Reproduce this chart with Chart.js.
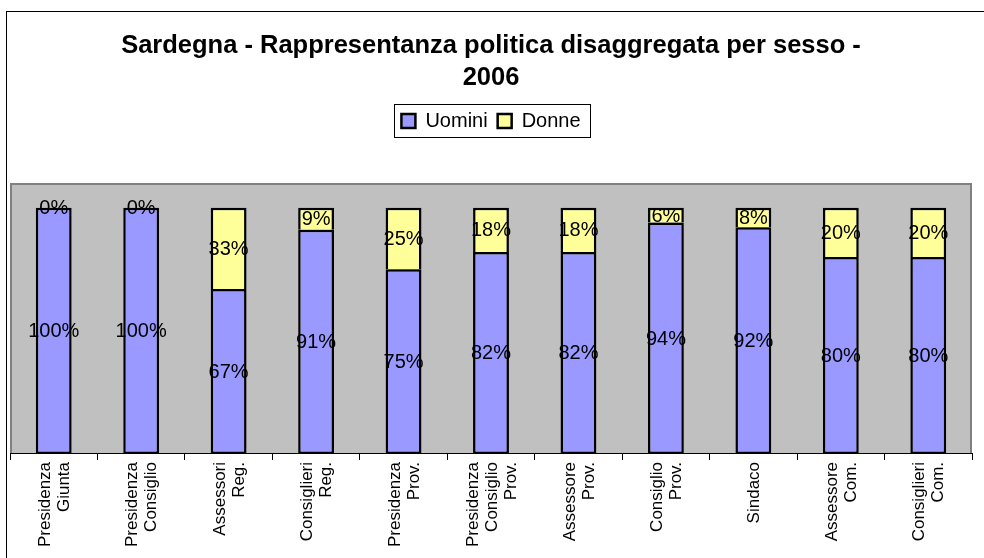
<!DOCTYPE html>
<html>
<head>
<meta charset="utf-8">
<script src="https://cdn.jsdelivr.net/npm/chart.js@4/dist/chart.umd.min.js"></script>
<style>
  html, body { margin: 0; padding: 0; background: #fff; }
  #wrap { width: 984px; height: 558px; position: relative; }
</style>
</head>
<body>
<div id="wrap"><canvas id="chart"></canvas></div>
<script>
// categories (lines of each axis label)
var categories = [
    ['Presidenza', 'Giunta'],
    ['Presidenza', 'Consiglio'],
    ['Assessori', 'Reg.'],
    ['Consiglieri', 'Reg.'],
    ['Presidenza', 'Prov.'],
    ['Presidenza', 'Consiglio', 'Prov.'],
    ['Assessore', 'Prov.'],
    ['Consiglio', 'Prov.'],
    ['Sindaco'],
    ['Assessore', 'Com.'],
    ['Consiglieri', 'Com.']
];
var uomini = [100, 100, 67, 91, 75, 82, 82, 94, 92, 80, 80];
var donne = [0, 0, 33, 9, 25, 18, 18, 6, 8, 20, 20];
var seriesNames = ['Uomini', 'Donne'];
var titleLines = ['Sardegna - Rappresentanza politica disaggregata per sesso -', '2006'];

var FONT = '"Liberation Sans", Arial, sans-serif';
Chart.defaults.font.family = FONT;
Chart.defaults.color = '#000';

// rotated labels: pad with half-line slots so every block is centred on its tick
function padLabel(lines) {
    var out = [];
    for (var i = 0; i < 3 - lines.length; i++) out.push('');
    lines.forEach(function (l, i) {
        if (i > 0) out.push('');
        out.push(l);
    });
    return out;
}
var labels = categories.map(padLabel);

var plotBg = {
    id: 'plotBg',
    beforeDraw: function (chart) {
        var ctx = chart.ctx, a = chart.chartArea;
        ctx.save();
        ctx.fillStyle = '#fff';
        ctx.fillRect(0, 0, chart.width, chart.height);
        ctx.strokeStyle = '#000';
        ctx.lineWidth = 1;
        ctx.strokeRect(6.5, 11.5, chart.width + 20, chart.height + 20);
        ctx.fillStyle = '#C0C0C0';
        ctx.fillRect(a.left, a.top, a.right - a.left, a.bottom - a.top);
        ctx.strokeStyle = '#808080';
        ctx.lineWidth = 2;
        ctx.beginPath();
        ctx.moveTo(a.left + 1, a.bottom);
        ctx.lineTo(a.left + 1, a.top + 1);
        ctx.lineTo(a.right - 1, a.top + 1);
        ctx.lineTo(a.right - 1, a.bottom);
        ctx.stroke();
        ctx.restore();
    }
};

var valueLabels = {
    id: 'valueLabels',
    afterDatasetsDraw: function (chart) {
        var ctx = chart.ctx;
        ctx.save();
        ctx.font = '20px ' + FONT;
        ctx.fillStyle = '#000';
        ctx.textAlign = 'center';
        ctx.textBaseline = 'middle';
        chart.data.datasets.forEach(function (ds, i) {
            chart.getDatasetMeta(i).data.forEach(function (bar, j) {
                var p = bar.getProps(['x', 'y', 'base'], true);
                ctx.fillText(ds.data[j] + '%', p.x, (p.y + p.base) / 2 + 1);
            });
        });
        ctx.restore();
    }
};

var legendFrame = {
    id: 'legendFrame',
    afterDraw: function (chart) {
        var hb = chart.legend.legendHitBoxes;
        if (!hb || !hb.length) return;
        var first = hb[0], last = hb[hb.length - 1];
        var cy = first.top + first.height / 2;
        var ctx = chart.ctx;
        ctx.save();
        ctx.strokeStyle = '#000';
        ctx.lineWidth = 1;
        ctx.strokeRect(Math.round(first.left - 7) + 0.5, Math.round(cy - 17) + 0.5,
            Math.round(last.left + last.width + 17 - first.left), 33);
        ctx.restore();
    }
};

new Chart(document.getElementById('chart'), {
    type: 'bar',
    data: {
        labels: labels,
        datasets: [
            {
                label: seriesNames[0],
                data: uomini,
                backgroundColor: '#9999FF',
                borderColor: '#000',
                borderWidth: 2.5,
                borderSkipped: false
            },
            {
                label: seriesNames[1],
                data: donne,
                backgroundColor: '#FFFF99',
                borderColor: '#000',
                borderWidth: 2.5,
                borderSkipped: 'start'
            }
        ]
    },
    options: {
        responsive: true,
        maintainAspectRatio: false,
        animation: false,
        datasets: { bar: { barPercentage: 0.41, categoryPercentage: 1 } },
        layout: { padding: { left: 10, right: 12, top: 0, bottom: 9 } },
        plugins: {
            title: {
                display: true,
                text: titleLines,
                font: { size: 25.5, weight: 'bold', lineHeight: '32px' },
                color: '#000',
                padding: { top: 30, bottom: 7 }
            },
            legend: {
                display: true,
                position: 'top',
                labels: {
                    font: { size: 20 },
                    color: '#000',
                    boxWidth: 14,
                    boxHeight: 14,
                    padding: 10
                }
            },
            tooltip: { enabled: false }
        },
        scales: {
            x: {
                stacked: true,
                grid: {
                    display: true,
                    drawOnChartArea: false,
                    drawTicks: true,
                    tickLength: 6,
                    color: '#000',
                    offset: true
                },
                border: { display: true, color: '#000', width: 1 },
                ticks: {
                    autoSkip: false,
                    minRotation: 90,
                    maxRotation: 90,
                    padding: 2,
                    labelOffset: -18,
                    color: '#000',
                    font: { size: 17, lineHeight: '9.5px' }
                }
            },
            xTop: {
                type: 'category',
                position: 'top',
                display: true,
                grid: { display: false },
                border: { display: false },
                ticks: { display: false },
                afterFit: function (scale) { scale.height = 42; }
            },
            y: {
                stacked: true,
                display: false,
                min: 0,
                max: 110
            }
        }
    },
    plugins: [plotBg, valueLabels, legendFrame]
});
</script>
</body>
</html>
